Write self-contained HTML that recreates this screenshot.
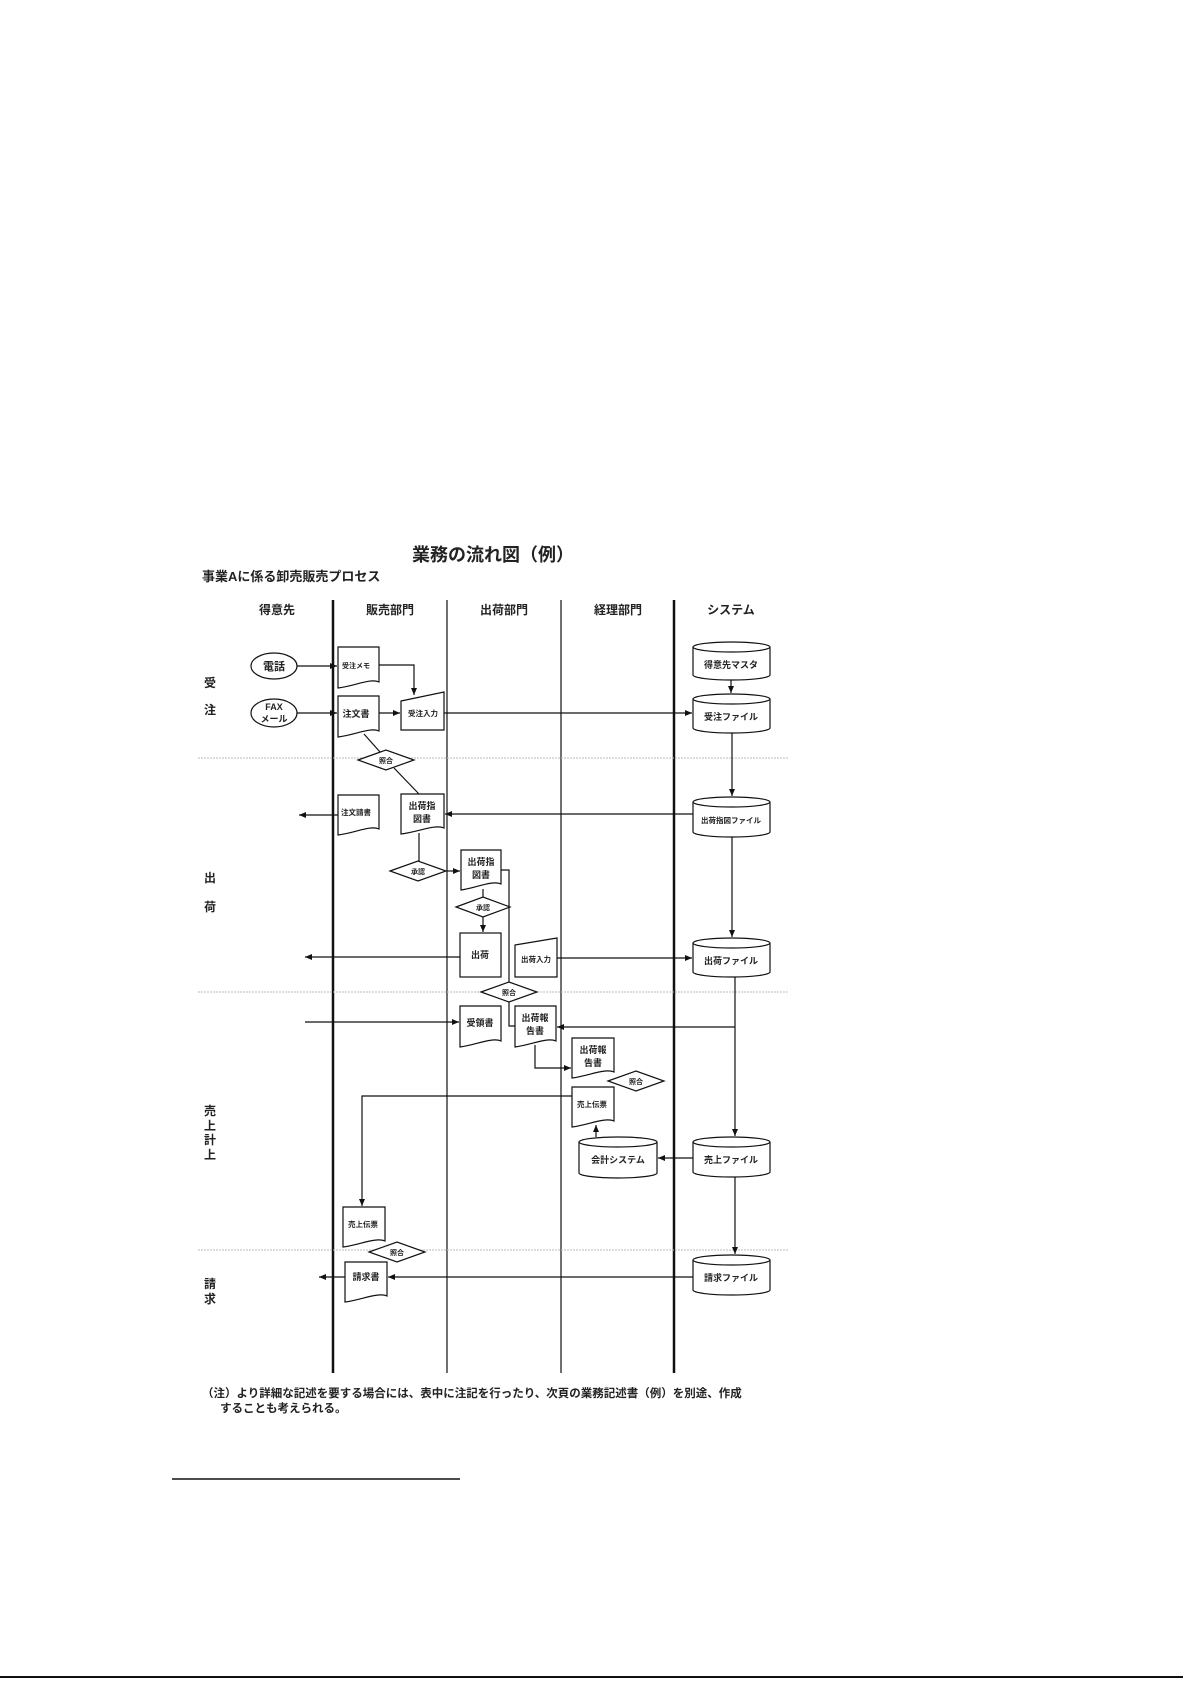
<!DOCTYPE html>
<html><head><meta charset="utf-8"><style>
html,body{margin:0;padding:0;background:#fff;}
svg{display:block;}
text{font-family:"Liberation Sans","Noto Sans CJK JP",sans-serif;fill:#222;}
</style></head><body>
<svg width="1192" height="1685" viewBox="0 0 1192 1685" xmlns="http://www.w3.org/2000/svg">
<defs>
<marker id="a" markerWidth="8" markerHeight="8" refX="7" refY="4" orient="auto" markerUnits="userSpaceOnUse">
<path d="M0,1 L7,4 L0,7 Z" fill="#111"/></marker>
</defs>
<g font-weight="bold">
<text x="493" y="561" font-size="18" text-anchor="middle">業務の流れ図（例）</text>
<text x="202" y="581" font-size="13">事業Aに係る卸売販売プロセス</text>
<g font-size="12" text-anchor="middle">
<text x="277" y="614">得意先</text><text x="390" y="614">販売部門</text><text x="504" y="614">出荷部門</text><text x="618" y="614">経理部門</text><text x="731" y="614">システム</text>
</g>
<g font-size="12" text-anchor="middle">
<text x="210" y="687">受</text><text x="210" y="714">注</text>
<text x="210" y="882">出</text><text x="210" y="911">荷</text>
<text x="210" y="1115">売</text><text x="210" y="1130">上</text><text x="210" y="1144">計</text><text x="210" y="1159">上</text>
<text x="210" y="1288">請</text><text x="210" y="1303">求</text>
</g>
</g>
<g stroke="#111">
<line x1="333" y1="600" x2="333" y2="1373" stroke-width="2.5"/>
<line x1="447" y1="600" x2="447" y2="1373" stroke-width="1.2"/>
<line x1="561" y1="600" x2="561" y2="1373" stroke-width="1.2"/>
<line x1="674" y1="600" x2="674" y2="1373" stroke-width="2.5"/>
</g>
<g stroke="#bbb" stroke-width="1" stroke-dasharray="2,1">
<line x1="198" y1="758" x2="789" y2="758"/>
<line x1="198" y1="992" x2="789" y2="992"/>
<line x1="198" y1="1250" x2="789" y2="1250"/>
</g>
<g fill="#fff" stroke="#111" stroke-width="1.2">
<ellipse cx="274" cy="666" rx="23" ry="13"/>
<ellipse cx="274" cy="713" rx="23" ry="14"/>
<path d="M338,647 H379 V682 C370,678 355,686 338,688 Z"/>
<path d="M338,696 H379 V731 C370,727 355,735 338,737 Z"/>
<path d="M338,795 H379 V829 C370,825 355,833 338,835 Z"/>
<path d="M401,794 H444 V828 C435,824 418,832 401,834 Z"/>
<path d="M461,850 H501 V884 C492,880 476,888 461,890 Z"/>
<path d="M460,1006 H501 V1041 C492,1037 476,1045 460,1047 Z"/>
<path d="M515,1006 H556 V1041 C547,1037 531,1045 515,1047 Z"/>
<path d="M572,1038 H614 V1072 C605,1068 588,1076 572,1078 Z"/>
<path d="M572,1087 H614 V1121 C605,1117 588,1125 572,1127 Z"/>
<path d="M343,1207 H385 V1241 C376,1237 359,1245 343,1247 Z"/>
<path d="M345,1262 H387 V1296 C378,1292 361,1300 345,1302 Z"/>
<path d="M401,701 L444,692 V730 H401 Z"/>
<path d="M515,945 L557,938 V977 H515 Z"/>
<rect x="460" y="933" width="41" height="44"/>
<path d="M358,760 L386,750 L414,760 L386,770 Z"/>
<path d="M390,871 L418,861 L446,871 L418,881 Z"/>
<path d="M456,907 L483,897 L510,907 L483,917 Z"/>
<path d="M481,992 L509,982 L537,992 L509,1002 Z"/>
<path d="M608,1081 L636,1071 L664,1081 L636,1091 Z"/>
<path d="M369,1252 L397,1242 L425,1252 L397,1262 Z"/>
<path d="M693,647 V675 A38.5,5 0 0 0 770,675 V647"/><ellipse cx="731.5" cy="647" rx="38.5" ry="5"/>
<path d="M693,699 V728 A38.5,5 0 0 0 770,728 V699"/><ellipse cx="731.5" cy="699" rx="38.5" ry="5"/>
<path d="M693,802 V832 A38.5,5 0 0 0 770,832 V802"/><ellipse cx="731.5" cy="802" rx="38.5" ry="5"/>
<path d="M693,943 V972 A38.5,5 0 0 0 770,972 V943"/><ellipse cx="731.5" cy="943" rx="38.5" ry="5"/>
<path d="M693,1142 V1172 A38.5,5 0 0 0 770,1172 V1142"/><ellipse cx="731.5" cy="1142" rx="38.5" ry="5"/>
<path d="M693,1260 V1290 A38.5,5 0 0 0 770,1290 V1260"/><ellipse cx="731.5" cy="1260" rx="38.5" ry="5"/>
<path d="M579,1142 V1173 A39,5 0 0 0 657,1173 V1142"/><ellipse cx="618" cy="1142" rx="39" ry="5"/>
</g>
<g stroke="#111" stroke-width="1.2" fill="none">
<line x1="297" y1="666" x2="337" y2="666" marker-end="url(#a)"/>
<line x1="297" y1="713" x2="337" y2="713" marker-end="url(#a)"/>
<polyline points="379,665 414,665 414,695" marker-end="url(#a)"/>
<line x1="379" y1="713" x2="400" y2="713" marker-end="url(#a)"/>
<line x1="444" y1="713" x2="692" y2="713" marker-end="url(#a)"/>
<line x1="731" y1="680" x2="731" y2="693" marker-end="url(#a)"/>
<line x1="732" y1="733" x2="732" y2="796" marker-end="url(#a)"/>
<line x1="364" y1="734" x2="380" y2="752"/>
<line x1="394" y1="768" x2="419" y2="794"/>
<line x1="338" y1="815" x2="299" y2="815" marker-end="url(#a)"/>
<line x1="693" y1="814" x2="445" y2="814" marker-end="url(#a)"/>
<line x1="419" y1="833" x2="419" y2="861"/>
<line x1="446" y1="871" x2="460" y2="871" marker-end="url(#a)"/>
<polyline points="501,870 509,870 509,982"/>
<line x1="483" y1="889" x2="483" y2="897"/>
<line x1="483" y1="917" x2="483" y2="932" marker-end="url(#a)"/>
<line x1="732" y1="837" x2="732" y2="937" marker-end="url(#a)"/>
<line x1="460" y1="957" x2="305" y2="957" marker-end="url(#a)"/>
<line x1="557" y1="958" x2="692" y2="958" marker-end="url(#a)"/>
<polyline points="509,1002 509,1026 515,1026"/>
<line x1="305" y1="1022" x2="459" y2="1022" marker-end="url(#a)"/>
<line x1="735" y1="977" x2="735" y2="1136" marker-end="url(#a)"/>
<line x1="735" y1="1027" x2="557" y2="1027" marker-end="url(#a)"/>
<polyline points="535,1045 535,1068 571,1068" marker-end="url(#a)"/>
<polyline points="572,1096 362,1096 362,1206" marker-end="url(#a)"/>
<line x1="596" y1="1137" x2="596" y2="1125" marker-end="url(#a)"/>
<line x1="693" y1="1158" x2="658" y2="1158" marker-end="url(#a)"/>
<line x1="735" y1="1177" x2="735" y2="1254" marker-end="url(#a)"/>
<line x1="693" y1="1277" x2="388" y2="1277" marker-end="url(#a)"/>
<line x1="345" y1="1277" x2="319" y2="1277" marker-end="url(#a)"/>
</g>
<g font-weight="bold" text-anchor="middle">
<text x="274" y="670" font-size="11">電話</text>
<text x="274" y="710" font-size="9">FAX</text><text x="274" y="722" font-size="9">メール</text>
<text x="356" y="668" font-size="7">受注メモ</text>
<text x="356" y="717" font-size="9">注文書</text>
<text x="423" y="716" font-size="7.5">受注入力</text>
<text x="356" y="815" font-size="7.5">注文請書</text>
<text x="422" y="809" font-size="9">出荷指</text><text x="422" y="822" font-size="9">図書</text>
<text x="481" y="865" font-size="9">出荷指</text><text x="481" y="878" font-size="9">図書</text>
<text x="480" y="958" font-size="9">出荷</text>
<text x="536" y="962" font-size="7.5">出荷入力</text>
<text x="480" y="1026" font-size="9">受領書</text>
<text x="535" y="1021" font-size="9">出荷報</text><text x="535" y="1034" font-size="9">告書</text>
<text x="593" y="1053" font-size="9">出荷報</text><text x="593" y="1066" font-size="9">告書</text>
<text x="592" y="1107" font-size="7.5">売上伝票</text>
<text x="363" y="1227" font-size="7.5">売上伝票</text>
<text x="366" y="1280" font-size="9">請求書</text>
<text x="386" y="763" font-size="7">照合</text>
<text x="418" y="874" font-size="7">承認</text>
<text x="483" y="910" font-size="7">承認</text>
<text x="509" y="995" font-size="7">照合</text>
<text x="636" y="1084" font-size="7">照合</text>
<text x="397" y="1255" font-size="7">照合</text>
<text x="731" y="668" font-size="9">得意先マスタ</text>
<text x="731" y="720" font-size="9">受注ファイル</text>
<text x="731" y="823" font-size="7.5">出荷指図ファイル</text>
<text x="731" y="964" font-size="9">出荷ファイル</text>
<text x="731" y="1163" font-size="9">売上ファイル</text>
<text x="731" y="1281" font-size="9">請求ファイル</text>
<text x="618" y="1163" font-size="9">会計システム</text>
</g>
<g font-size="11.5" font-weight="bold">
<text x="202" y="1397">（注）より詳細な記述を要する場合には、表中に注記を行ったり、次頁の業務記述書（例）を別途、作成</text>
<text x="220" y="1412">することも考えられる。</text>
</g>
<line x1="172" y1="1479" x2="460" y2="1479" stroke="#111" stroke-width="1.5"/>
<line x1="0" y1="1677" x2="1183" y2="1677" stroke="#111" stroke-width="2"/>
</svg>
</body></html>
